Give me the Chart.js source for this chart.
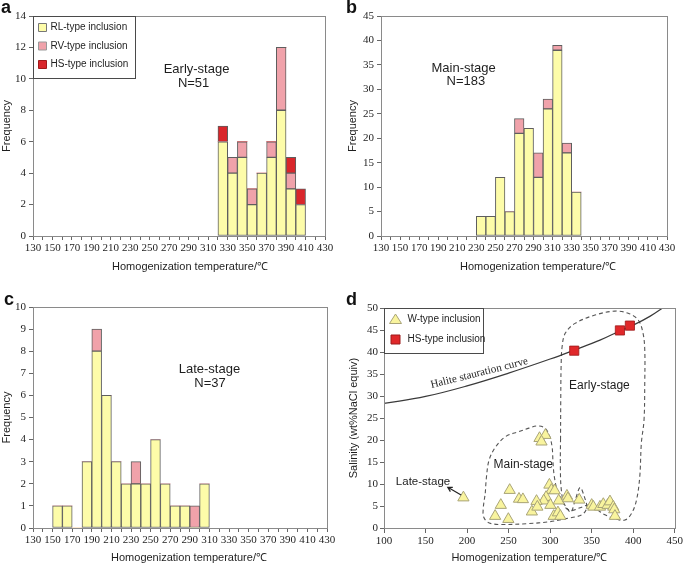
<!DOCTYPE html>
<html>
<head>
<meta charset="utf-8">
<title>Fluid inclusion homogenization temperatures</title>
<script src="https://cdn.jsdelivr.net/npm/chart.js@4.4.1/dist/chart.umd.min.js"></script>
<style>
  html, body { margin: 0; padding: 0; background: #fff; }
  #page { position: relative; width: 685px; height: 565px; overflow: hidden; }
  #page canvas { position: absolute; }
  .tag { position: absolute; font: bold 18px "Liberation Sans", Arial, sans-serif; color: #111; line-height: 18px; }
</style>
</head>
<body>
<div id="page">
  <canvas id="chart-a" width="340" height="280" style="left:0;top:0"></canvas>
  <canvas id="chart-b" width="345" height="280" style="left:340px;top:0"></canvas>
  <canvas id="chart-c" width="340" height="285" style="left:0;top:280px"></canvas>
  <canvas id="chart-d" width="345" height="285" style="left:340px;top:280px"></canvas>
  <div class="tag" style="left:1px;top:-2px">a</div>
  <div class="tag" style="left:346px;top:-2px">b</div>
  <div class="tag" style="left:4px;top:290px">c</div>
  <div class="tag" style="left:346px;top:290px">d</div>
</div>
<script>
// histogram bins (lower edge, °C) and counts per inclusion type
var binsA = [320, 330, 340, 350, 360, 370, 380, 390, 400];
var rlA = [6, 4, 5, 2, 4, 5, 8, 3, 2];
var rvA = [0, 1, 1, 1, 0, 1, 4, 1, 0];
var hsA = [1, 0, 0, 0, 0, 0, 0, 1, 1];

var binsB = [230, 240, 250, 260, 270, 280, 290, 300, 310, 320, 330];
var rlB = [4, 4, 12, 5, 21, 22, 12, 26, 38, 17, 9];
var rvB = [0, 0, 0, 0, 3, 0, 5, 2, 1, 2, 0];

var binsC = [150, 160, 170, 180, 190, 200, 210, 220, 230, 240, 250, 260, 270, 280, 290, 300];
var rlC = [1, 1, 0, 3, 8, 6, 3, 2, 2, 2, 4, 2, 1, 1, 0, 2];
var rvC = [0, 0, 0, 0, 1, 0, 0, 0, 1, 0, 0, 0, 0, 0, 1, 0];

// panel d: temperature / salinity
var wTemp = [195.6, 251.3, 240.6, 233.8, 249.7, 262.5, 267.2, 287.2, 294.3, 289.6, 299.1, 301.5, 305.5,
  295.1, 292.3, 278, 283.6, 284.6, 300.3, 310.3, 304.3, 309.4, 312.3, 320.2, 321.4, 335, 350, 352,
  360, 364, 369.2, 372, 376, 377.2, 378];
var wSal = [6.9, 8.6, 5.2, 2.7, 2.0, 6.6, 6.5, 20.4, 21.1, 19.6, 9.8, 8.6, 8.5,
  7.0, 6.2, 3.7, 6.1, 4.8, 5.2, 6.2, 2.7, 3.5, 2.7, 7.3, 6.7, 6.4, 5.2, 4.8,
  4.8, 5.4, 5.2, 6.0, 4.8, 4.2, 2.7];
var hsTemp = [329, 384, 396];
var hsSal = [40.3, 44.9, 46.0];
var haliteTemp = [100, 150, 200, 250, 300, 330, 360, 385, 400, 420, 440];
var haliteSal = [28.3, 29.9, 32.3, 35.2, 38.4, 40.5, 42.7, 44.9, 46.1, 48.1, 50.6];
var earlyLoopTemp = [312.5, 312.8, 313.2, 314.4, 318.3, 330, 354, 378, 394, 406, 411.8, 413.9, 413.9, 413,
  409.8, 407.9, 404, 398, 390, 380, 366, 354, 346, 336, 326, 318, 313.5, 312.3, 312.5];
var earlyLoopSal = [20, 30, 36.7, 41.2, 44.3, 46.5, 48.4, 49.3, 48.8, 47.3, 44.3, 40.5, 33, 24.5,
  19.3, 11.7, 6.4, 3.3, 1.8, 2.0, 3.0, 4.5, 5.2, 4.6, 4.0, 4.8, 8.6, 14, 20];
var mainLoopTemp = [221.9, 223.4, 226.6, 234.6, 246.6, 262.5, 274.4, 284, 293, 298.5, 302.3, 303.5, 305,
  308.5, 314.2, 320.2, 325, 330, 336, 341, 344, 338, 318, 298, 274, 240, 226, 220, 219.5, 221.9];
var mainLoopSal = [7.9, 11.7, 15.5, 18.5, 20.8, 21.9, 22.7, 23.2, 22.8, 21.3, 18.5, 14.7, 11.7,
  8.6, 6.4, 4.5, 3.6, 6.2, 9.2, 7.2, 4.6, 3.0, 2.1, 1.4, 1.0, 0.8, 1.2, 2.5, 4.5, 7.9];

var SERIF = '"Liberation Serif", "Times New Roman", serif';
var SANS = '"Liberation Sans", Arial, sans-serif';
var YELLOW = "#fdfca9";
var PINK = "#f0a2aa";
var RED = "#d9262b";
var FRAME = "#8a8a8a";
var INK = "#1e1e1e";
var TEMP_TITLE = "Homogenization temperature/\u2103";

Chart.defaults.font.family = SERIF;
Chart.defaults.font.size = 11;
Chart.defaults.color = INK;

function zip(xs, ys) {
  return xs.map(function (x, i) { return { x: x, y: ys[i] }; });
}

// box around the whole plotting area
var framePlugin = {
  id: "frame",
  afterDraw: function (chart) {
    var a = chart.chartArea, ctx = chart.ctx;
    ctx.save();
    ctx.strokeStyle = FRAME;
    ctx.lineWidth = 1;
    ctx.strokeRect(Math.round(a.left) + 0.5, Math.round(a.top) + 0.5,
      Math.round(a.right - a.left), Math.round(a.bottom - a.top));
    ctx.restore();
  }
};

// x-axis caption, set a little right of centre as in the source figure
function xCaption(text, dx, fromBottom) {
  return {
    id: "xCaption",
    afterDraw: function (chart) {
      var a = chart.chartArea, ctx = chart.ctx;
      ctx.save();
      ctx.font = "11px " + SANS;
      ctx.fillStyle = INK;
      ctx.textAlign = "center";
      ctx.textBaseline = "middle";
      ctx.fillText(text, (a.left + a.right) / 2 + dx, chart.height - fromBottom);
      ctx.restore();
    }
  };
}

// text placed in data coordinates
function notes(items) {
  return {
    id: "notes",
    afterDatasetsDraw: function (chart) {
      var ctx = chart.ctx, xs = chart.scales.x, ys = chart.scales.y;
      items.forEach(function (n) {
        ctx.save();
        ctx.translate(xs.getPixelForValue(n.x), ys.getPixelForValue(n.y));
        if (n.angle) ctx.rotate(n.angle * Math.PI / 180);
        ctx.font = n.font;
        ctx.fillStyle = INK;
        ctx.textAlign = "center";
        ctx.textBaseline = "middle";
        ctx.fillText(n.text, 0, 0);
        ctx.restore();
      });
    }
  };
}

function drawSymbol(ctx, it, cx, cy) {
  ctx.fillStyle = it.color;
  ctx.strokeStyle = it.border;
  ctx.lineWidth = 1;
  ctx.beginPath();
  if (it.shape === "triangle") {
    ctx.moveTo(cx, cy - 5.5);
    ctx.lineTo(cx + 6, cy + 4);
    ctx.lineTo(cx - 6, cy + 4);
    ctx.closePath();
  } else {
    ctx.rect(cx - it.size / 2, cy - it.size / 2, it.size, it.size);
  }
  ctx.fill();
  ctx.stroke();
}

// legend box sitting in the top-left corner of the plot
function boxLegend(spec) {
  return {
    id: "boxLegend",
    afterDraw: function (chart) {
      var a = chart.chartArea, ctx = chart.ctx;
      var x0 = Math.round(a.left) + 0.5, y0 = Math.round(a.top) + 0.5;
      ctx.save();
      ctx.fillStyle = "#fff";
      ctx.fillRect(x0, y0, spec.width, spec.height);
      ctx.strokeStyle = "#4a4a4a";
      ctx.lineWidth = 1;
      ctx.strokeRect(x0, y0, spec.width, spec.height);
      ctx.font = "10px " + SANS;
      ctx.textBaseline = "middle";
      spec.items.forEach(function (it, i) {
        var cy = y0 + spec.firstRow + i * spec.rowGap;
        drawSymbol(ctx, it, x0 + spec.symbolX, cy);
        ctx.fillStyle = INK;
        ctx.fillText(it.label, x0 + spec.textX, cy);
      });
      ctx.restore();
    }
  };
}

function barSet(label, bins, values, color) {
  return {
    label: label,
    data: bins.map(function (b, i) { return { x: b + 5, y: values[i] }; }),
    backgroundColor: color,
    borderColor: "#5e5e5e",
    borderWidth: function (c) { return c.raw && c.raw.y ? 1 : 0; },
    borderSkipped: false,
    barPercentage: 1,
    categoryPercentage: 1,
    stack: "all"
  };
}

function histogram(id, datasets, yMax, yStep, box, extraPlugins) {
  return new Chart(document.getElementById(id), {
    type: "bar",
    data: { datasets: datasets },
    plugins: [framePlugin, xCaption(TEMP_TITLE, box.captionDx, box.captionY)].concat(extraPlugins),
    options: {
      responsive: false,
      animation: false,
      layout: { padding: { top: box.padTop, right: box.padRight, left: 0, bottom: 0 } },
      plugins: { legend: { display: false }, tooltip: { enabled: false } },
      scales: {
        x: {
          type: "linear",
          min: 130,
          max: 430,
          offset: false,
          stacked: true,
          grid: { drawOnChartArea: false, tickLength: 4, color: "#666", offset: false },
          border: { color: FRAME },
          ticks: {
            stepSize: 10,
            autoSkip: false,
            maxRotation: 0,
            padding: 2,
            callback: function (v) { return (v - 130) % 20 === 0 ? String(v) : ""; }
          },
          afterFit: function (s) { s.height = box.xHeight; }
        },
        y: {
          min: 0,
          max: yMax,
          stacked: true,
          grid: { drawOnChartArea: false, tickLength: 4, color: "#666" },
          border: { color: FRAME },
          ticks: { stepSize: yStep, padding: 3 },
          title: {
            display: true,
            text: "Frequency",
            font: { family: SANS, size: 11 },
            padding: { top: box.yTitlePad, bottom: 0 }
          },
          afterFit: function (s) { s.width = box.yWidth; }
        }
      }
    }
  });
}

document.addEventListener("DOMContentLoaded", function () {
  // a - Early stage
  histogram("chart-a", [
    barSet("RL-type inclusion", binsA, rlA, YELLOW),
    barSet("RV-type inclusion", binsA, rvA, PINK),
    barSet("HS-type inclusion", binsA, hsA, RED)
  ], 14, 2, { padTop: 16, padRight: 15, xHeight: 44, yWidth: 33, captionDx: 11, captionY: 13, yTitlePad: 0 }, [
    notes([
      { text: "Early-stage", x: 298, y: 10.58, font: "13px " + SANS },
      { text: "N=51", x: 295, y: 9.72, font: "13px " + SANS }
    ]),
    boxLegend({
      width: 102, height: 62, symbolX: 9, textX: 17, firstRow: 11, rowGap: 18.5,
      items: [
        { label: "RL-type inclusion", color: YELLOW, border: "#777", size: 8 },
        { label: "RV-type inclusion", color: PINK, border: "#999", size: 8 },
        { label: "HS-type inclusion", color: RED, border: "#a01a1a", size: 8 }
      ]
    })
  ]);

  // b - Main stage
  histogram("chart-b", [
    barSet("RL-type inclusion", binsB, rlB, YELLOW),
    barSet("RV-type inclusion", binsB, rvB, PINK)
  ], 45, 5, { padTop: 16, padRight: 18, xHeight: 44, yWidth: 41, captionDx: 14, captionY: 13, yTitlePad: 6 }, [
    notes([
      { text: "Main-stage", x: 216.7, y: 34.35, font: "13px " + SANS },
      { text: "N=183", x: 219, y: 31.6, font: "13px " + SANS }
    ])
  ]);

  // c - Late stage
  histogram("chart-c", [
    barSet("RL-type inclusion", binsC, rlC, YELLOW),
    barSet("RV-type inclusion", binsC, rvC, PINK)
  ], 10, 1, { padTop: 27, padRight: 13, xHeight: 37, yWidth: 33, captionDx: 9, captionY: 7, yTitlePad: 0 }, [
    notes([
      { text: "Late-stage", x: 310, y: 7.16, font: "13px " + SANS },
      { text: "N=37", x: 310.6, y: 6.55, font: "13px " + SANS }
    ])
  ]);

  // d - Salinity vs temperature
  var arrowPlugin = {
    id: "arrow",
    afterDatasetsDraw: function (chart) {
      var ctx = chart.ctx, xs = chart.scales.x, ys = chart.scales.y;
      var x1 = xs.getPixelForValue(192.8), y1 = ys.getPixelForValue(7.5);
      var x2 = xs.getPixelForValue(176.8), y2 = ys.getPixelForValue(9.25);
      var ang = Math.atan2(y2 - y1, x2 - x1);
      ctx.save();
      ctx.strokeStyle = "#222";
      ctx.lineWidth = 1.2;
      ctx.beginPath();
      ctx.moveTo(x1, y1);
      ctx.lineTo(x2, y2);
      ctx.moveTo(x2 - 5 * Math.cos(ang - 0.5), y2 - 5 * Math.sin(ang - 0.5));
      ctx.lineTo(x2, y2);
      ctx.lineTo(x2 - 5 * Math.cos(ang + 0.5), y2 - 5 * Math.sin(ang + 0.5));
      ctx.stroke();
      ctx.restore();
    }
  };

  new Chart(document.getElementById("chart-d"), {
    type: "scatter",
    data: {
      datasets: [
        {
          label: "HS-type inclusion",
          data: zip(hsTemp, hsSal),
          pointStyle: "rect",
          pointRadius: 6.5,
          backgroundColor: "#e0282a",
          borderColor: "#9c1a1a",
          borderWidth: 0.8,
          order: 0
        },
        {
          label: "W-type inclusion",
          data: zip(wTemp, wSal),
          pointStyle: "triangle",
          pointRadius: 6.5,
          backgroundColor: "#f9f49e",
          borderColor: "#a9a478",
          borderWidth: 1,
          order: 1
        },
        {
          label: "Halite saturation curve",
          data: zip(haliteTemp, haliteSal),
          showLine: true,
          borderColor: "#3a3a3a",
          borderWidth: 1.2,
          pointRadius: 0,
          tension: 0.4,
          order: 2
        },
        {
          label: "Early-stage field",
          data: zip(earlyLoopTemp, earlyLoopSal),
          showLine: true,
          borderColor: "#555",
          borderDash: [4, 3],
          borderWidth: 1.1,
          pointRadius: 0,
          tension: 0.35,
          order: 3
        },
        {
          label: "Main-stage field",
          data: zip(mainLoopTemp, mainLoopSal),
          showLine: true,
          borderColor: "#555",
          borderDash: [4, 3],
          borderWidth: 1.1,
          pointRadius: 0,
          tension: 0.35,
          order: 4
        }
      ]
    },
    plugins: [
      framePlugin,
      arrowPlugin,
      notes([
        { text: "Halite stauration curve", x: 214.7, y: 35.2, angle: -14, font: "11px " + SERIF },
        { text: "Early-stage", x: 359.3, y: 32.3, font: "12px " + SANS },
        { text: "Main-stage", x: 267.6, y: 14.5, font: "12px " + SANS },
        { text: "Late-stage", x: 147, y: 10.4, font: "11.5px " + SANS }
      ]),
      boxLegend({
        width: 99, height: 45, symbolX: 11, textX: 23, firstRow: 11, rowGap: 20,
        items: [
          { label: "W-type inclusion", shape: "triangle", color: "#f9f49e", border: "#a9a478" },
          { label: "HS-type inclusion", color: "#e0282a", border: "#9c1a1a", size: 9 }
        ]
      })
    ],
    options: {
      responsive: false,
      animation: false,
      layout: { padding: { top: 28, right: 8, left: 0, bottom: 0 } },
      plugins: { legend: { display: false }, tooltip: { enabled: false } },
      scales: {
        x: {
          type: "linear",
          min: 100,
          max: 450,
          grid: { drawOnChartArea: false, tickLength: 5, color: "#666" },
          border: { color: FRAME },
          ticks: { stepSize: 50, autoSkip: false, maxRotation: 0, padding: 2 },
          title: {
            display: true,
            text: TEMP_TITLE,
            font: { family: SANS, size: 11 },
            padding: { top: 0, bottom: 0 }
          },
          afterFit: function (s) { s.height = 37; }
        },
        y: {
          min: 0,
          max: 50,
          grid: { drawOnChartArea: false, tickLength: 4, color: "#666" },
          border: { color: FRAME },
          ticks: { stepSize: 5, padding: 2 },
          title: {
            display: true,
            text: "Salinity (wt%NaCl equiv)",
            font: { family: SANS, size: 11 },
            padding: { top: 7, bottom: 0 }
          },
          afterFit: function (s) { s.width = 44; }
        }
      }
    }
  });
});
</script>
</body>
</html>
